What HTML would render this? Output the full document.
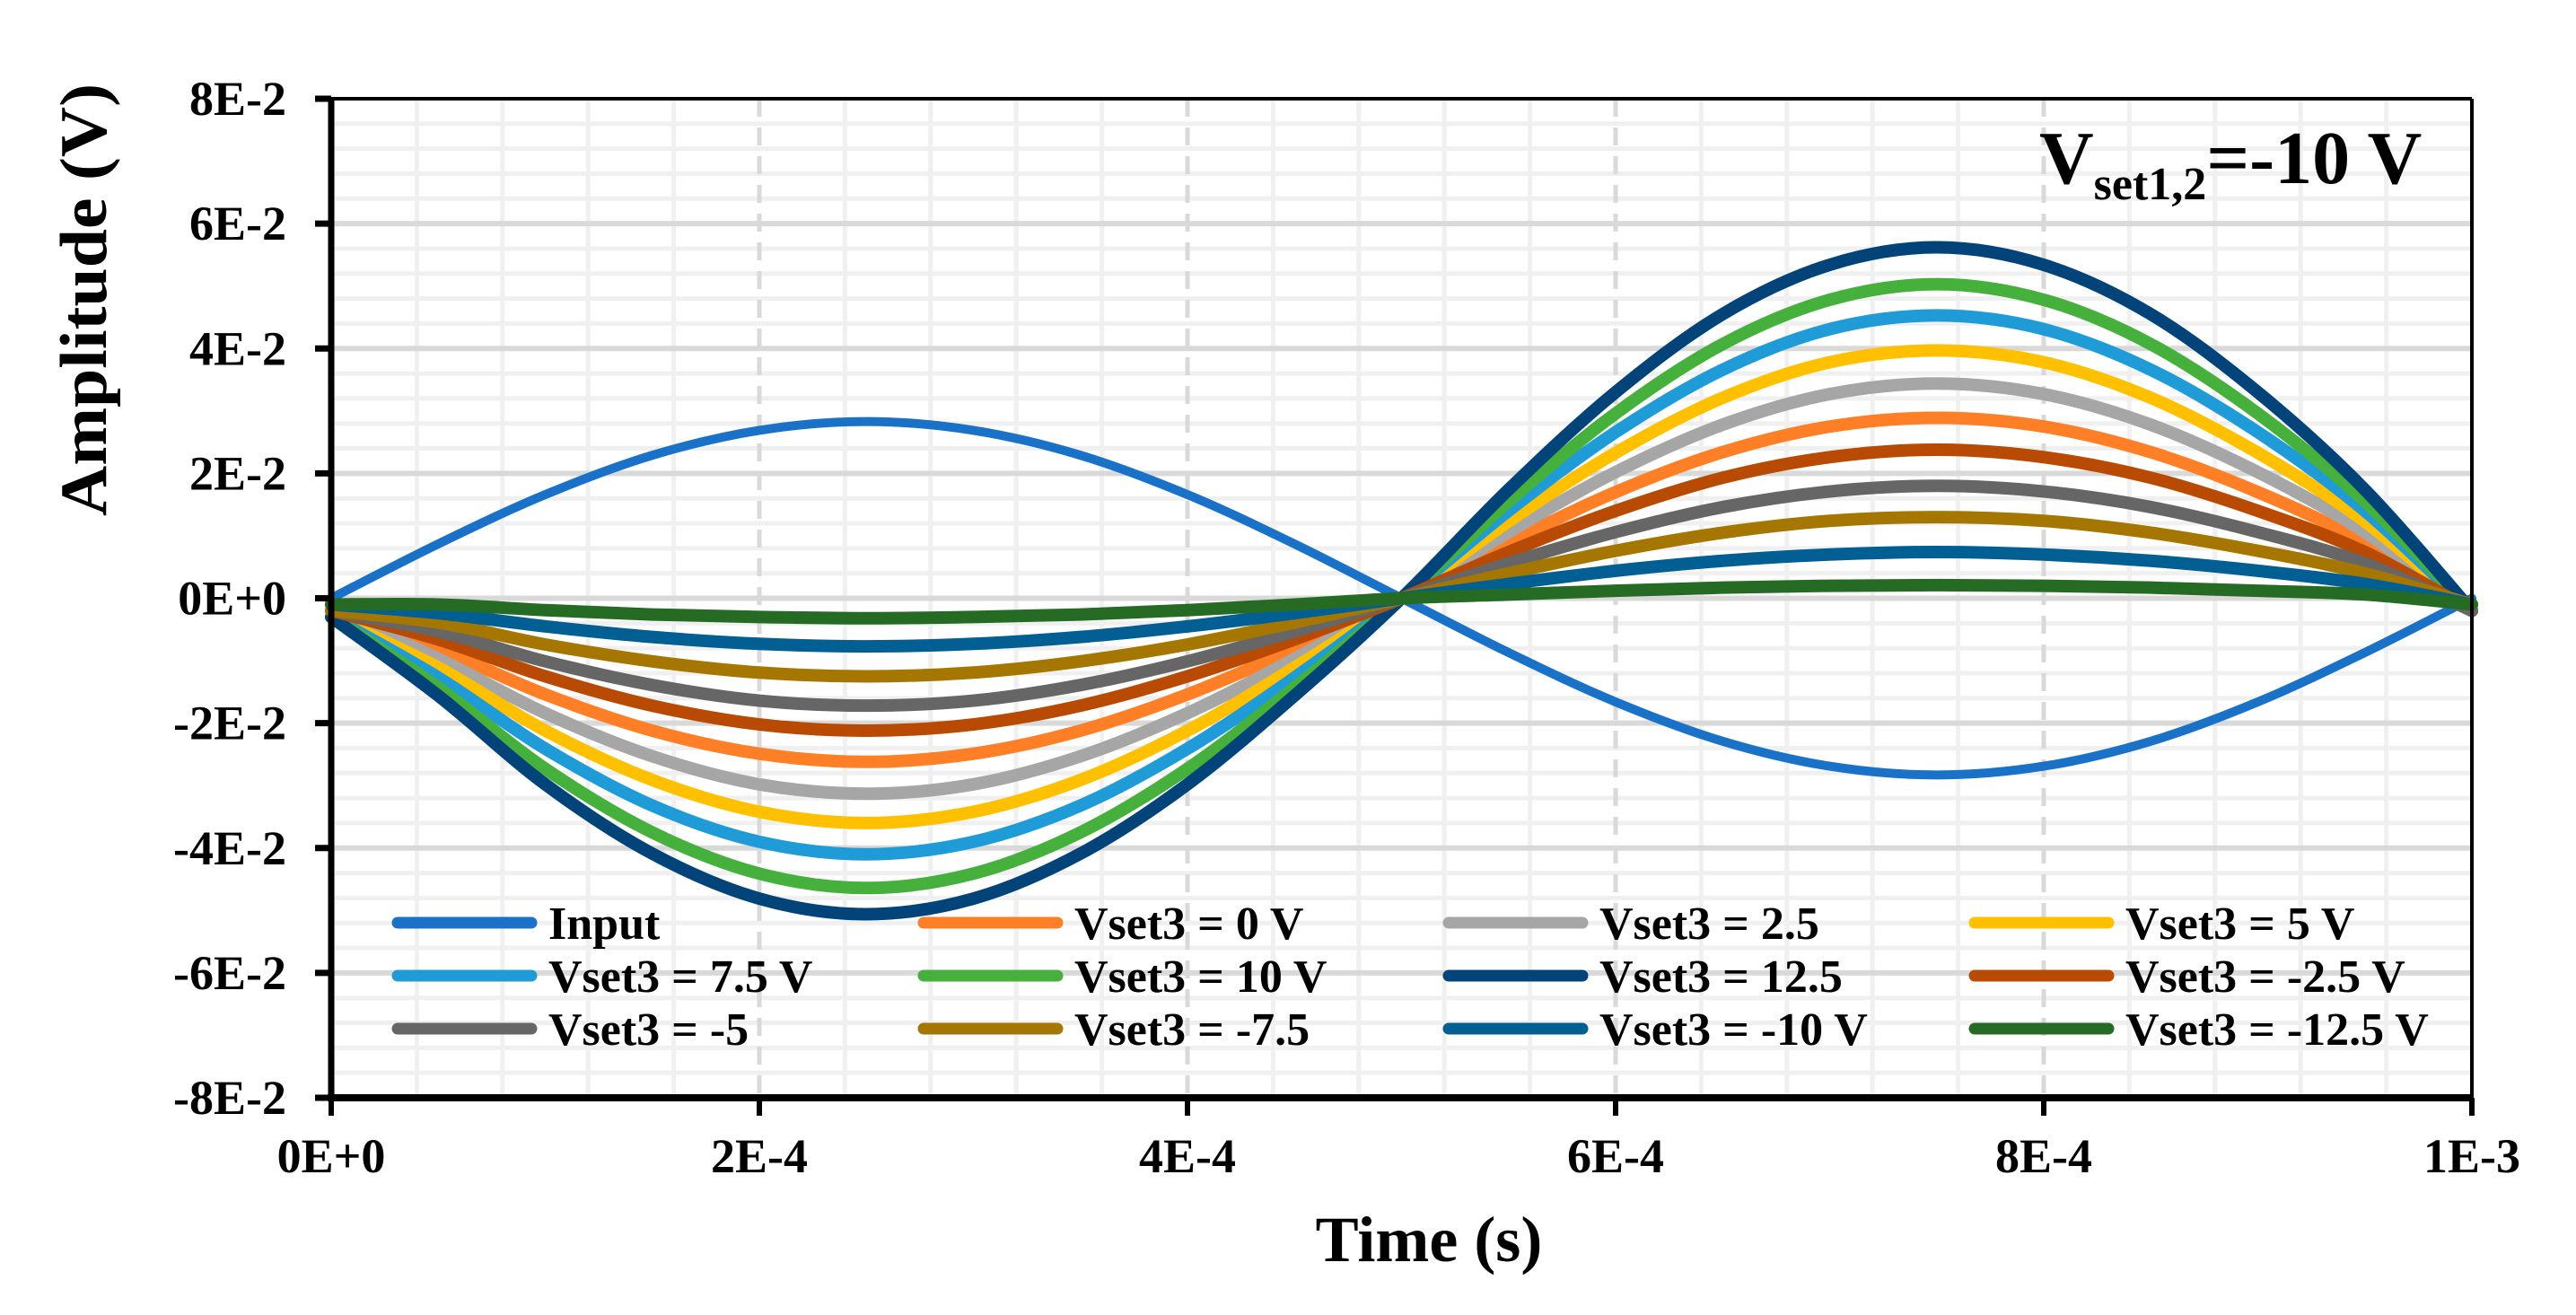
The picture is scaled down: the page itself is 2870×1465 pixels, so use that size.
<!DOCTYPE html>
<html><head><meta charset="utf-8"><style>
html,body{margin:0;padding:0;background:#fff;}
svg{display:block;font-family:"Liberation Serif",serif;font-weight:bold;}
</style></head><body>
<svg id="chart" width="2870" height="1465" viewBox="0 0 2870 1465" xmlns="http://www.w3.org/2000/svg">
<g id="grid"></g>
<g id="series"></g>
<g id="axes"></g>
<g id="legend"></g>
<text x="2272" y="204" font-size="84" fill="#000">V<tspan font-size="52" dy="18">set1,2</tspan><tspan dy="-18">=-10 V</tspan></text>
<text transform="translate(118,334) rotate(-90)" text-anchor="middle" font-size="74" fill="#000" textLength="482" lengthAdjust="spacingAndGlyphs">Amplitude (V)</text>
<text x="1592" y="1405" text-anchor="middle" font-size="72" fill="#000">Time (s)</text>
</svg>
<script>
const times = [0,0.5e-4,1e-4,1.5e-4,2e-4,2.5e-4,3e-4,3.5e-4,4e-4,4.5e-4,5e-4,5.5e-4,6e-4,6.5e-4,7e-4,7.5e-4,8e-4,8.5e-4,9e-4,9.5e-4,1e-3];
const xTickLabels = ["0E+0","2E-4","4E-4","6E-4","8E-4","1E-3"];
const xTickValues = [0,2e-4,4e-4,6e-4,8e-4,1e-3];
const yTickLabels = ["8E-2","6E-2","4E-2","2E-2","0E+0","-2E-2","-4E-2","-6E-2","-8E-2"];
const yTickValues = [0.08,0.06,0.04,0.02,0,-0.02,-0.04,-0.06,-0.08];
const seriesNames = ["Input","Vset3 = 0 V","Vset3 = 2.5","Vset3 = 5 V","Vset3 = 7.5 V","Vset3 = 10 V","Vset3 = 12.5","Vset3 = -2.5 V","Vset3 = -5","Vset3 = -7.5","Vset3 = -10 V","Vset3 = -12.5 V"];
const seriesColors = ["#1a72c8","#ff7f27","#a6a6a6","#ffc000","#1f9bd8","#46b03d","#024379","#b84a03","#666666","#a67700","#025f93","#256b24"];
const input   = [0,.0087,.0166,.0229,.0269,.0283,.0269,.0229,.0166,.0087,0,-.0087,-.0166,-.0229,-.0269,-.0283,-.0269,-.0229,-.0166,-.0087,0];
const v0      = [-.002,-.0081,-.0154,-.0212,-.0249,-.0262,-.0249,-.0212,-.0154,-.0081,0,.0089,.0170,.0234,.0275,.0289,.0275,.0234,.0170,.0089,-.002];
const v2p5    = [-.002,-.0097,-.0184,-.0253,-.0298,-.0313,-.0298,-.0253,-.0184,-.0097,0,.0106,.0202,.0278,.0327,.0344,.0327,.0278,.0202,.0106,-.002];
const v5      = [-.003,-.0111,-.0212,-.0291,-.0342,-.0360,-.0342,-.0291,-.0212,-.0111,0,.0123,.0233,.0321,.0378,.0397,.0378,.0321,.0233,.0123,-.002];
const v7p5    = [-.003,-.0127,-.0241,-.0332,-.0390,-.0410,-.0390,-.0332,-.0241,-.0127,0,.0140,.0266,.0366,.0431,.0453,.0431,.0366,.0266,.0140,-.002];
const v10     = [-.003,-.0143,-.0273,-.0375,-.0441,-.0464,-.0441,-.0375,-.0273,-.0143,0,.0155,.0296,.0407,.0478,.0503,.0478,.0407,.0296,.0155,-.002];
const v12p5   = [-.003,-.0156,-.0298,-.0409,-.0481,-.0506,-.0481,-.0409,-.0298,-.0156,0,.0174,.0330,.0455,.0534,.0562,.0534,.0455,.0330,.0174,-.002];
const vm2p5   = [-.002,-.0066,-.0125,-.0172,-.0202,-.0212,-.0202,-.0172,-.0125,-.0066,0,.0074,.0140,.0193,.0226,.0238,.0226,.0193,.0140,.0074,-.002];
const vm5     = [-.002,-.0053,-.0101,-.0139,-.0164,-.0172,-.0164,-.0139,-.0101,-.0053,0,.0056,.0106,.0146,.0171,.0180,.0171,.0146,.0106,.0056,-.002];
const vm7p5   = [-.002,-.0039,-.0074,-.0101,-.0119,-.0125,-.0119,-.0101,-.0074,-.0039,0,.0040,.0076,.0105,.0124,.0130,.0124,.0105,.0076,.0040,-.001];
const vm10    = [-.001,-.0024,-.0045,-.0062,-.0073,-.0077,-.0073,-.0062,-.0045,-.0024,0,.0023,.0044,.0060,.0070,.0074,.0070,.0060,.0044,.0023,-.001];
const vm12p5  = [-.001,-.0010,-.0019,-.0026,-.0030,-.0032,-.0030,-.0026,-.0019,-.0010,0,.0006,.0012,.0017,.0020,.0021,.0020,.0017,.0012,.0006,-.001];
const seriesData = [input,v0,v2p5,v5,v7p5,v10,v12p5,vm2p5,vm5,vm7p5,vm10,vm12p5];

const NS="http://www.w3.org/2000/svg";
const L=369,R=2754,T=110,B=1223;
const X=t=>L+(t-0)/(1e-3)*(R-L);
const Y=v=>T+(0.08-v)/0.16*(B-T);
function mk(tag,attrs,parent){const e=document.createElementNS(NS,tag);for(const k in attrs)e.setAttribute(k,attrs[k]);parent.appendChild(e);return e;}
const grid=document.getElementById('grid'),axes=document.getElementById('axes'),ser=document.getElementById('series'),leg=document.getElementById('legend');

for(let i=1;i<25;i++){ if(i%5===0) continue; const x=X(i*4e-5);
  const l=mk('line',{x1:x,x2:x,y1:T,y2:B,stroke:'#f0f0f0','stroke-width':5},grid);
  
  }
for(let i=1;i<40;i++){ if(i%5===0) continue; const y=Y(0.08-i*0.004);
  const l=mk('line',{x1:L,x2:R,y1:y,y2:y,stroke:'#f0f0f0','stroke-width':5},grid);
  
  }
xTickValues.forEach((v,i)=>{ if(i===0||i===5) return; const x=X(v);
  const l=mk('line',{x1:x,x2:x,y1:T,y2:B,stroke:'#d9d9d9','stroke-width':5,'stroke-dasharray':'20 12'},grid);
  
  });
yTickValues.forEach((v,i)=>{ if(i===0||i===8) return; const y=Y(v);
  const l=mk('line',{x1:L,x2:R,y1:y,y2:y,stroke:'#d9d9d9','stroke-width':6},grid);
  
  });

function pathFor(arr){
  const p=arr.map((v,i)=>[X(times[i]),Y(v)]);
  let d='M'+p[0][0]+','+p[0][1];
  for(let i=0;i<p.length-1;i++){
    const p0=p[i-1]||p[i],p1=p[i],p2=p[i+1],p3=p[i+2]||p[i+1];
    const c1=[p1[0]+(p2[0]-p0[0])/6,p1[1]+(p2[1]-p0[1])/6];
    const c2=[p2[0]-(p3[0]-p1[0])/6,p2[1]-(p3[1]-p1[1])/6];
    d+=' C'+c1[0]+','+c1[1]+' '+c2[0]+','+c2[1]+' '+p2[0]+','+p2[1];
  }
  return d;
}
seriesData.forEach((arr,i)=>{
  const p=mk('path',{d:pathFor(arr),fill:'none',stroke:seriesColors[i],'stroke-width':i===0?10:14,'stroke-linejoin':'round','stroke-linecap':'round'},ser);
  
  
});

const frame=[[L,T,R,T,4],[R,T,R,B,4],[L,T-2,L,B+4,7],[L-4,B,R+2,B,8]];
frame.forEach(f=>{const l=mk('line',{x1:f[0],y1:f[1],x2:f[2],y2:f[3],stroke:'#000','stroke-width':f[4]},axes);
  
  });
yTickValues.forEach((v,i)=>{const y=Y(v);
  const t=mk('line',{x1:L-18,x2:L,y1:y,y2:y,stroke:'#000','stroke-width':7},axes);
  
  
  const tx=mk('text',{x:319,y:y+18,'text-anchor':'end','font-size':54,fill:'#000'},axes);
  tx.textContent=yTickLabels[i];
  
  });
xTickValues.forEach((v,i)=>{const x=X(v);
  const t=mk('line',{x1:x,x2:x,y1:B,y2:B+20,stroke:'#000','stroke-width':6},axes);
  
  
  const tx=mk('text',{x:x,y:1306,'text-anchor':'middle','font-size':54,fill:'#000'},axes);
  tx.textContent=xTickLabels[i];
  
  });

const colX=[437,1023,1608,2194], rowY=[1028,1087,1146];
seriesNames.forEach((n,i)=>{const cx=colX[i%4], ry=rowY[Math.floor(i/4)];
  const g=mk('g',{},leg);
  
  
  const l=mk('line',{x1:cx+6,x2:cx+155,y1:ry,y2:ry,stroke:seriesColors[i],'stroke-width':13,'stroke-linecap':'round'},g);
  
  
  const t=mk('text',{x:cx+174,y:ry+18,'font-size':52,fill:'#000'},g);
  t.textContent=n;
  
  });
</script>
</body></html>
